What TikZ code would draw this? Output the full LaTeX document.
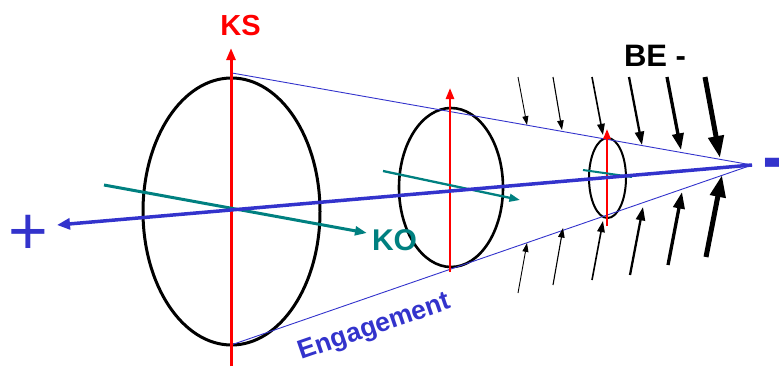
\documentclass[tikz,border=0pt]{standalone}
\usepackage{fontspec}
\setmainfont{Liberation Sans}
\usetikzlibrary{arrows.meta,shapes.geometric}
\definecolor{eblue}{RGB}{51,51,204}
\definecolor{eteal}{RGB}{0,128,128}
\begin{document}
\begin{tikzpicture}[x=1pt,y=-1pt,
  ring/.style={draw=black, ellipse, inner sep=0pt, outer sep=0pt},
  redarr/.style={draw=red, line width=#1, -{Triangle[length=6pt 2, width=4pt 1.6]}},
  tealarr/.style={draw=eteal, line width=#1, -{Triangle[length=6pt 2, width=4pt 1.6]}},
  bkarr/.style={draw=black, line width=#1, -{Triangle[length=6pt 3.2, width=4pt 2.2]}},
  thinblue/.style={draw=eblue, line width=0.9pt},
  lbl/.style={inner sep=0pt, outer sep=0pt, font=\bfseries}]
\useasboundingbox (0,0) rectangle (779,367);

% ellipses
\node[ring, line width=3pt, minimum width=177pt, minimum height=267pt] (E1) at (231.5,211.5) {};
\node[ring, line width=2.6pt, minimum width=104pt, minimum height=159pt] (E2) at (451,187.5) {};
\node[ring, line width=2pt, minimum width=37pt, minimum height=80pt] (E3) at (607.5,178) {};

% key points
\coordinate (apex) at (752,165);
\coordinate (top1) at (232,73);
\coordinate (bot1) at (231,345);
\coordinate (axL) at (57,225);

% cone
\draw[thinblue] (top1) -- (apex);
\draw[thinblue] (bot1) -- (apex);

% red axes
\coordinate (r1a) at (231,366); \coordinate (r1b) at (231,48);
\coordinate (r2a) at (450,272); \coordinate (r2b) at (450,88);
\coordinate (r3a) at (607,226); \coordinate (r3b) at (607,129);
\draw[redarr=3pt] (r1a) -- (r1b);
\draw[redarr=2.5pt] (r2a) -- (r2b);
\draw[redarr=2pt] (r3a) -- (r3b);

% teal axes
\coordinate (t1a) at (104,185); \coordinate (t1b) at (367,233);
\coordinate (t2a) at (383,171); \coordinate (t2b) at (520,200);
\coordinate (t3a) at (583,170); \coordinate (t3b) at (632,177);
\draw[tealarr=3pt] (t1a) -- (t1b);
\draw[tealarr=2.3pt] (t2a) -- (t2b);
\draw[draw=eteal, line width=2pt] (t3a) -- (t3b);

% main blue axis
\draw[draw=eblue, line width=3.5pt, -{Triangle[length=13pt, width=11pt]}] (apex) -- (axL);

% black arrows, top
\coordinate (a1s) at (518,77);  \coordinate (a1e) at (527,125);
\coordinate (a2s) at (553,77);  \coordinate (a2e) at (562,130);
\coordinate (a3s) at (592,77);  \coordinate (a3e) at (603,135);
\coordinate (a4s) at (629,77);  \coordinate (a4e) at (642,145);
\coordinate (a5s) at (667,77);  \coordinate (a5e) at (681,150);
\coordinate (a6s) at (705,77);  \coordinate (a6e) at (720,158);
\draw[bkarr=0.9pt] (a1s) -- (a1e);
\draw[bkarr=1.1pt] (a2s) -- (a2e);
\draw[bkarr=1.6pt] (a3s) -- (a3e);
\draw[bkarr=2.3pt] (a4s) -- (a4e);
\draw[bkarr=3.3pt] (a5s) -- (a5e);
\draw[bkarr=5pt] (a6s) -- (a6e);

% black arrows, bottom
\coordinate (b1s) at (518,293); \coordinate (b1e) at (527,243);
\coordinate (b2s) at (553,285); \coordinate (b2e) at (563,228);
\coordinate (b3s) at (592,280); \coordinate (b3e) at (603,221);
\coordinate (b4s) at (630,275); \coordinate (b4e) at (643,207);
\coordinate (b5s) at (668,265); \coordinate (b5e) at (682,192);
\coordinate (b6s) at (706,257); \coordinate (b6e) at (722,175);
\draw[bkarr=0.9pt] (b1s) -- (b1e);
\draw[bkarr=1.1pt] (b2s) -- (b2e);
\draw[bkarr=1.6pt] (b3s) -- (b3e);
\draw[bkarr=2.3pt] (b4s) -- (b4e);
\draw[bkarr=3.3pt] (b5s) -- (b5e);
\draw[bkarr=5pt] (b6s) -- (b6e);

% labels
\node[lbl, text=red, font=\bfseries\fontsize{29}{29}\selectfont] (KS) at (240.5,25.5) {KS};
\node[lbl, text=black, font=\bfseries\fontsize{31}{31}\selectfont] (BE) at (655,55.5) {BE -};
\node[lbl, text=eteal, font=\bfseries\fontsize{30}{30}\selectfont] (KO) at (394.5,240.5) {KO};
\node[lbl, text=eblue, font=\fontsize{68}{68}\selectfont] (plus) at (28,235) {+};
\node[lbl, text=eblue, font=\bfseries\fontsize{76}{76}\selectfont, anchor=base west] (minus) at (762,182) {-};
\node[lbl, text=eblue, font=\bfseries\fontsize{26.5}{26.5}\selectfont, anchor=base, rotate=19] (eng) at (377,334) {Engagement};
\end{tikzpicture}
\end{document}
